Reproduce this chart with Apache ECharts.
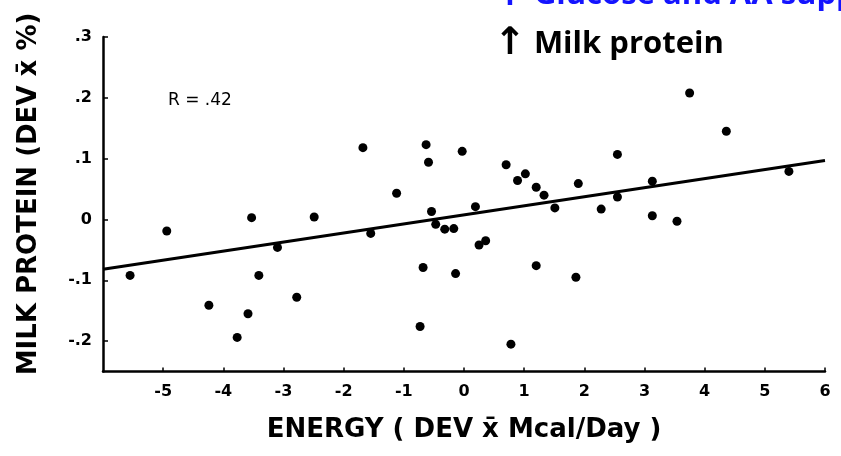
<!DOCTYPE html>
<html>
<head>
<meta charset="utf-8">
<script src="https://cdn.jsdelivr.net/npm/echarts@6/dist/echarts.min.js"></script>
<style>
  html, body { margin: 0; padding: 0; background: #fff; }
  #chart { width: 841px; height: 456px; }
</style>
</head>
<body>
<div id="chart"></div>
<script>
// energy deviation (Mcal/day) and milk protein deviation (%) per cow
const energyDev = [
  -5.55, -4.94, -3.53, -2.49, -3.10, -3.41, -4.24, -3.59, -3.77, -2.78,
  -1.68, -1.12, -1.55, -0.63, -0.59, -0.03, -0.54, -0.47, -0.32, -0.17,
  0.19, 0.25, 0.36, -0.68, -0.14, -0.73, 0.78, 0.70, 0.89, 1.02,
  1.20, 1.33, 1.51, 1.20, 1.90, 1.86, 2.55, 2.28, 2.55, 3.13,
  3.13, 3.54, 3.75, 4.36, 5.40
];
const proteinDev = [
  -0.092, -0.019, 0.003, 0.004, -0.046, -0.092, -0.141, -0.155, -0.194, -0.128,
  0.118, 0.043, -0.023, 0.123, 0.094, 0.112, 0.013, -0.008, -0.016, -0.015,
  0.021, -0.042, -0.035, -0.079, -0.089, -0.176, -0.205, 0.090, 0.064, 0.075,
  0.053, 0.040, 0.019, -0.076, 0.059, -0.095, 0.107, 0.017, 0.037, 0.063,
  0.006, -0.003, 0.208, 0.145, 0.079
];
// regression line ends
const fitX = [-6, 6];
const fitY = [-0.082, 0.097];

const xTicks = [-5, -4, -3, -2, -1, 0, 1, 2, 3, 4, 5, 6];
const yTicks = [-0.2, -0.1, 0, 0.1, 0.2, 0.3];

const chart = echarts.init(document.getElementById("chart"));

const tickFont = {
  color: "#000",
  fontFamily: "DejaVu Sans",
  fontWeight: "bold",
  fontSize: 16,
};

// arrow + words, arrow drawn in DejaVu so it is full size
const note = (txt, color) => ({
  text: "{a|\u2191}{b| " + txt + "}",
  rich: {
    a: { fill: color, font: "bold 38px 'DejaVu Sans'" },
    b: { fill: color, font: "bold 31px 'Open Sans'" },
  },
});

chart.setOption({
  animation: false,
  grid: { left: 103, right: 16, top: 37, bottom: 84.5 },
  xAxis: {
    type: "value",
    min: -6,
    max: 6,
    name: "ENERGY ( DEV x\u0304 Mcal/Day )",
    nameLocation: "middle",
    nameGap: 46,
    nameTextStyle: {
      color: "#000",
      fontFamily: "DejaVu Sans",
      fontWeight: "bold",
      fontSize: 26,
    },
    splitLine: { show: false },
    axisLine: { show: true, onZero: false, lineStyle: { color: "#000", width: 2.5 } },
    axisTick: {
      show: true,
      inside: true,
      length: 4,
      customValues: xTicks,
      lineStyle: { color: "#000", width: 1.5 },
    },
    axisLabel: {
      ...tickFont,
      margin: 12,
      customValues: xTicks,
    },
  },
  yAxis: {
    type: "value",
    min: -0.25,
    max: 0.3,
    splitLine: { show: false },
    axisLine: { show: true, onZero: false, lineStyle: { color: "#000", width: 2.5 } },
    axisTick: {
      show: true,
      inside: true,
      length: 5,
      customValues: yTicks,
      lineStyle: { color: "#000", width: 1.5 },
    },
    axisLabel: {
      ...tickFont,
      margin: 11,
      customValues: yTicks,
      formatter: (v) => (v === 0 ? "0" : v.toFixed(1).replace("0.", ".")),
    },
  },
  graphic: [
    {
      type: "text",
      x: 29,
      y: 194,
      rotation: Math.PI / 2,
      style: {
        text: "MILK PROTEIN (DEV x\u0304 %)",
        fill: "#000",
        font: "bold 26px 'DejaVu Sans'",
        align: "center",
        verticalAlign: "middle",
      },
    },
    {
      type: "text",
      left: 168,
      top: 92,
      style: { text: "R = .42", fill: "#000", font: "17px 'DejaVu Sans'" },
    },
    {
      type: "text",
      x: 494,
      y: 14,
      style: { ...note("Glucose and AA supply", "#1414ff"), verticalAlign: "bottom" },
    },
    {
      type: "text",
      x: 494,
      y: 63,
      style: { ...note("Milk protein", "#000"), verticalAlign: "bottom" },
    },
  ],
  series: [
    {
      type: "scatter",
      symbol: "circle",
      symbolSize: 9,
      itemStyle: { color: "#000", opacity: 1 },
      data: energyDev.map((x, i) => [x, proteinDev[i]]),
    },
    {
      type: "line",
      symbol: "none",
      lineStyle: { color: "#000", width: 3 },
      data: fitX.map((x, i) => [x, fitY[i]]),
    },
  ],
});
</script>
</body>
</html>
